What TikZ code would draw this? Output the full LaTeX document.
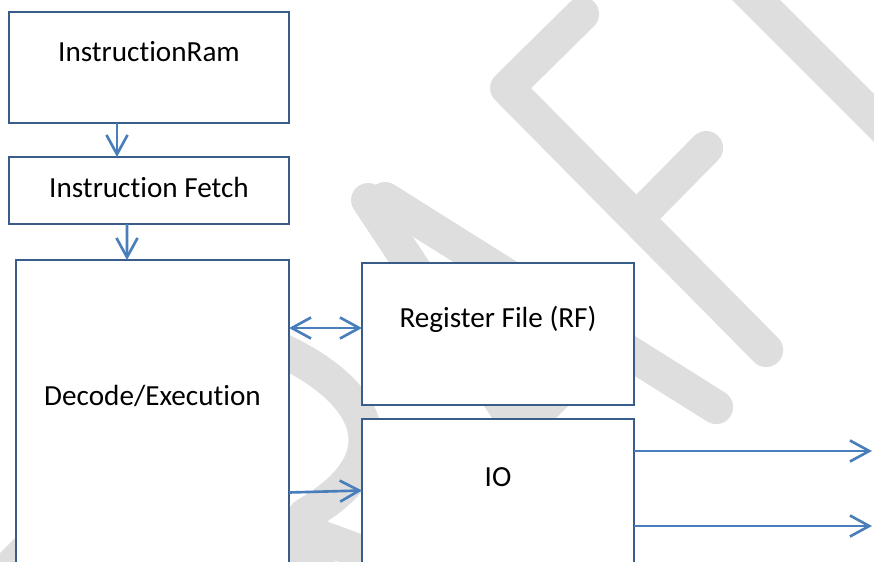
\documentclass[tikz,border=0pt]{standalone}
\usepackage{fontspec}
\setmainfont[Ligatures={NoCommon}]{Carlito}
\usepackage{tikz}
\usetikzlibrary{arrows.meta, positioning}
\definecolor{boxblue}{RGB}{56,93,138}
\definecolor{lineblue}{RGB}{74,126,187}
\definecolor{wmgray}{RGB}{222,222,222}

\begin{document}
\begin{tikzpicture}[
  block/.style={rectangle, draw=boxblue, line width=1.1pt, fill=white, inner sep=0pt, outer sep=0pt, align=center, text height=0.38cm, font=\fontsize{16.6}{20}\selectfont},
  arrow/.style={draw=lineblue, line width=1.5pt, -{Straight Barb[length=11pt, width=12pt]}},
  biarrow/.style={draw=lineblue, line width=1.5pt, {Straight Barb[length=11pt, width=12pt]}-{Straight Barb[length=11pt, width=12pt]}},
  wmark/.style={draw=wmgray, line width=0.68cm, line cap=round, line join=round}
]
  \useasboundingbox (0,0) rectangle (17.48,-11.22);
  \clip (0,0) rectangle (17.48,-11.22);

  % Watermark behind the boxes (pixel grid)
  \begin{scope}[x=0.02cm, y=-0.02cm]
    \draw [wmark] (-30,607) -- (60,517);
    \draw [wmark] (270,345) .. controls (365,385) and (410,455) .. (305,515);
    \draw [wmark] (296,528) -- (372,556);
    \draw [wmark] (270,520) -- (330,580);
    \draw [wmark] (368,200) -- (560,490);
    \draw [wmark] (385,199) -- (716,407);
    \draw [wmark] (520,430) -- (610,340);
    \draw [wmark] (582,14) -- (507,88) -- (766,350);
    \draw [wmark] (637,218) -- (706,148);
    \draw [wmark] (680,-76) -- (950,194);
  \end{scope}

  % Left column
  \node (ram) [block, minimum width=5.6cm, minimum height=2.22cm, text depth=0.62cm] at (2.98,-1.35) {InstructionRam};
  \node (fetch) [block, minimum width=5.6cm, minimum height=1.34cm, text depth=0.12cm, below=0.68cm of ram] {Instruction Fetch};
  \node (exec) [block, minimum width=5.46cm, minimum height=6.4cm, text depth=0.97cm, below=0.72cm of fetch, xshift=0.07cm] {Decode/Execution};

  % Right column
  \node (regfile) [block, minimum width=5.44cm, minimum height=2.84cm, text depth=0.66cm, right=1.46cm of exec.north east, anchor=north west, yshift=-0.06cm] {Register File (RF)};
  \node (io) [block, minimum width=5.44cm, minimum height=4cm, text depth=1.69cm, below=0.28cm of regfile] {IO};

  % Connections
  \coordinate (rfport) at ([yshift=0.12cm]regfile.west);
  \coordinate (outA) at (17.44,-9.02);
  \coordinate (outB) at (17.44,-10.52);
  \draw [arrow] ([xshift=-0.64cm]ram.south) -- ([xshift=-0.64cm]fetch.north);
  \draw [arrow] ([xshift=-0.44cm]fetch.south) -- ([xshift=-0.51cm]exec.north);
  \draw [biarrow] (rfport -| exec.east) -- (rfport);
  \draw [arrow] ([yshift=-1.45cm]exec.east) -- ([yshift=0.57cm]io.west);
  \draw [arrow] (outA -| io.east) -- (outA);
  \draw [arrow] (outB -| io.east) -- (outB);

\end{tikzpicture}
\end{document}
